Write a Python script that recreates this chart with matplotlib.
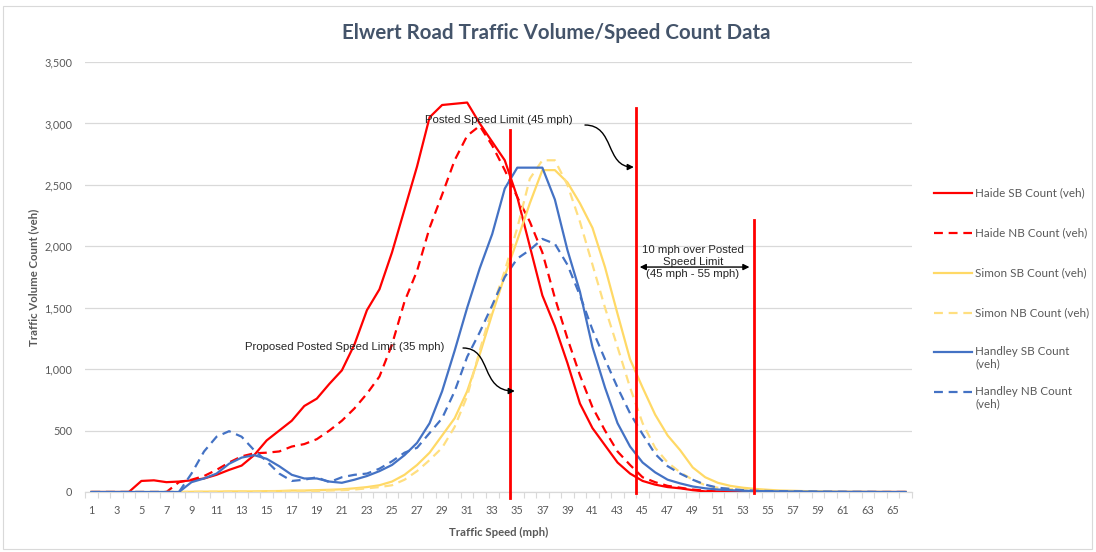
import numpy as np
import matplotlib
matplotlib.use("Agg")
import matplotlib.pyplot as plt
from matplotlib.lines import Line2D
from matplotlib.path import Path
from matplotlib.patches import FancyArrowPatch, Rectangle

speeds = list(range(1, 67))

haide_sb = [0, 0, 0, 0, 90, 95, 80, 85, 95, 110, 140, 180, 215, 300, 420, 500, 580, 700, 760, 880,
            990, 1200, 1480, 1650, 1950, 2300, 2650, 3050, 3150, 3160, 3170, 3000, 2850, 2700, 2400, 2000,
            1600, 1350, 1050, 720, 520, 380, 240, 150, 90, 60, 40, 30, 15, 5, 5, 5, 3, 2, 1, 0,
            0, 0, 0, 0, 0, 0, 0, 0, 0, 0]
haide_nb = [0, 0, 0, 0, 0, 0, 0, 80, 100, 130, 180, 240, 290, 315, 320, 330, 370, 390, 430, 500,
            580, 680, 800, 940, 1200, 1550, 1800, 2150, 2420, 2700, 2900, 2980, 2820, 2620, 2400, 2200,
            1950, 1580, 1250, 950, 690, 500, 330, 220, 120, 80, 50, 35, 20, 10, 5, 3, 2, 1, 1, 0,
            0, 0, 0, 0, 0, 0, 0, 0, 0, 0]
simon_sb = [0, 0, 0, 0, 0, 0, 0, 0, 2, 3, 3, 5, 5, 5, 7, 8, 12, 12, 15, 18,
            22, 30, 40, 55, 85, 140, 220, 320, 460, 600, 820, 1120, 1450, 1760, 2050, 2350,
            2620, 2620, 2520, 2350, 2150, 1830, 1450, 1080, 850, 630, 460, 340, 200, 120, 75, 50, 35, 25, 18, 12,
            10, 7, 5, 3, 2, 2, 1, 1, 0, 0]
simon_nb = [0, 0, 0, 0, 0, 0, 0, 0, 1, 1, 2, 2, 3, 3, 4, 5, 6, 7, 9, 12,
            15, 20, 30, 40, 55, 100, 170, 260, 360, 530, 780, 1150, 1500, 1800, 2150, 2550,
            2700, 2700, 2500, 2200, 1850, 1500, 1180, 850, 560, 360, 240, 160, 100, 55, 35, 25, 15, 10, 7, 5,
            3, 2, 1, 1, 0, 0, 0, 0, 0, 0]
handley_sb = [0, 0, 0, 0, 0, 0, 0, 0, 80, 110, 150, 230, 280, 300, 270, 210, 140, 110, 110, 85,
              75, 100, 130, 170, 220, 300, 400, 560, 820, 1150, 1500, 1820, 2100, 2470, 2640, 2640,
              2640, 2380, 1970, 1630, 1180, 850, 560, 370, 240, 160, 100, 70, 45, 30, 20, 15, 10, 8, 6, 5,
              4, 3, 2, 2, 1, 1, 1, 0, 0, 0]
handley_nb = [0, 0, 0, 0, 0, 0, 0, 0, 150, 330, 450, 495, 450, 340, 250, 150, 90, 100, 120, 80,
              120, 140, 150, 190, 250, 320, 360, 480, 600, 820, 1100, 1300, 1520, 1750, 1900, 1970,
              2060, 2020, 1850, 1600, 1320, 1080, 850, 640, 470, 310, 210, 150, 100, 60, 35, 25, 15, 10, 8, 6,
              5, 4, 3, 2, 2, 1, 1, 0, 0, 0]

series_labels = ["Haide SB Count (veh)", "Haide NB Count (veh)", "Simon SB Count (veh)",
                 "Simon NB Count (veh)", "Handley SB Count\n(veh)", "Handley NB Count\n(veh)"]
series_data = [haide_sb, haide_nb, simon_sb, simon_nb, handley_sb, handley_nb]
series_colors = ["#FF0000", "#FF0000", "#FFD966", "#FFDF80", "#4472C4", "#4472C4"]
series_dashed = [False, True, False, True, False, True]

y_ticks = [0, 500, 1000, 1500, 2000, 2500, 3000, 3500]
x_tick_labels = [str(s) for s in speeds if s % 2 == 1]

W, H = 1096, 552
fig = plt.figure(figsize=(W / 100, H / 100), dpi=100)
fig.patch.set_facecolor("white")
ax = fig.add_axes([85 / W, 1 - 492 / H, (912 - 85) / W, (492 - 62) / H])

TICK_FONT = "Lato"
gray = "#595959"

for data, col, dashed, lab in zip(series_data, series_colors, series_dashed, series_labels):
    ln, = ax.plot(speeds, data, color=col, lw=1.6, label=lab, zorder=3)
    if dashed:
        ln.set_dashes((4, 2.6))

ax.set_xlim(0.5, 66.5)
ax.set_ylim(0, 3500)
ax.set_yticks(y_ticks)
ax.set_yticklabels([f"{v:,}" for v in y_ticks], fontsize=7.8, color=gray, family=TICK_FONT)
odd = [s for s in speeds if s % 2 == 1]
ax.set_xticks(odd)
ax.set_xticklabels(x_tick_labels, fontsize=7.8, color=gray, family=TICK_FONT)
ax.set_xticks(np.arange(0.5, 67, 1), minor=True)
ax.tick_params(axis="x", which="major", length=0, pad=9)
ax.tick_params(axis="x", which="minor", length=4, color="#D9D9D9", width=0.8)
ax.tick_params(axis="y", length=0, pad=9)
ax.grid(axis="y", color="#D9D9D9", lw=0.9, zorder=0)
ax.set_axisbelow(True)
for sp in ["top", "right", "left"]:
    ax.spines[sp].set_visible(False)
ax.spines["bottom"].set_color("#D9D9D9")
ax.spines["bottom"].set_linewidth(0.9)

ax.set_xlabel("Traffic Speed (mph)", fontsize=8.2, fontweight="bold", color=gray,
              family=TICK_FONT, labelpad=8)
ax.set_ylabel("Traffic Volume Count (veh)", fontsize=8.2, fontweight="bold", color=gray,
              family=TICK_FONT, labelpad=6)
ax.yaxis.set_label_coords((39 - 85) / (912 - 85), 0.5)

fig.text(556 / W, 1 - 33 / H, "Elwert Road Traffic Volume/Speed Count Data",
         ha="center", va="center", fontsize=14.8, fontweight="bold", color="#44546A",
         family="Lato")

# speed limit markers
ax.plot([34.42, 34.42], [-49, 2946], color="#FF0000", lw=2, clip_on=False, zorder=5)
ax.plot([44.47, 44.47], [-8, 3125], color="#FF0000", lw=2, clip_on=False, zorder=5)
ax.plot([53.9, 53.9], [-8, 2214], color="#FF0000", lw=2, clip_on=False, zorder=5)

ann_font = dict(fontsize=8.2, color="#262626", family="Liberation Sans")
ax.text(33.5, 3028, "Posted Speed Limit (45 mph)", ha="center", va="center", zorder=6, **ann_font)
ax.text(21.2, 1180, "Proposed Posted Speed Limit (35 mph)", ha="center", va="center", zorder=6, **ann_font)
ax.text(49.0, 1872, "10 mph over Posted\nSpeed Limit\n(45 mph - 55 mph)", ha="center", va="center",
        linespacing=1.2, zorder=6, **ann_font)

def s_arrow(p0, p1, p2, p3):
    path = Path([p0, p1, p2, p3], [Path.MOVETO, Path.CURVE4, Path.CURVE4, Path.CURVE4])
    a = FancyArrowPatch(path=path, arrowstyle="-|>", mutation_scale=9, color="black",
                        lw=1.0, zorder=7, transform=ax.transData, clip_on=False)
    ax.add_patch(a)

s_arrow((40.4, 2987), (42.8, 2987), (42.0, 2645), (44.3, 2645))
s_arrow((30.67, 1172), (33.0, 1172), (32.0, 822), (34.8, 822))

da = FancyArrowPatch((44.55, 1831), (53.75, 1831), arrowstyle="<|-|>", mutation_scale=9,
                     color="black", lw=1.0, zorder=7)
ax.add_patch(da)

# legend
leg_y = [193, 233, 273, 313, 352, 392]
for data, col, dashed, lab, yy in zip(series_data, series_colors, series_dashed, series_labels, leg_y):
    l = Line2D([934 / W, 972 / W], [1 - yy / H, 1 - yy / H], color=col, lw=1.6,
               transform=fig.transFigure)
    if dashed:
        l.set_dashes((4, 2.6))
    fig.add_artist(l)
    fig.text(975 / W, 1 - (yy - 6) / H, lab, ha="left", va="top", fontsize=8.4, color=gray,
             family=TICK_FONT, linespacing=1.15)

fig.add_artist(Rectangle((3 / W, 3 / H), (W - 7) / W, (H - 9) / H, transform=fig.transFigure,
                         fill=False, edgecolor="#D9D9D9", lw=0.8))

fig.savefig("out.png", dpi=100)
